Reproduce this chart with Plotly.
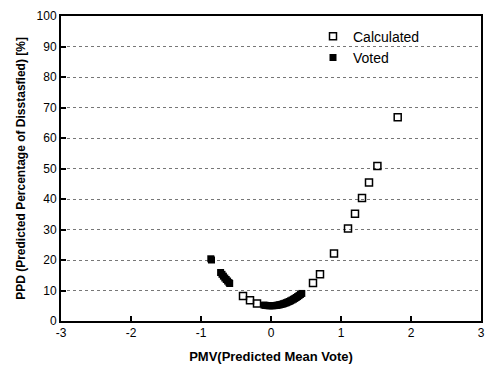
import plotly.graph_objects as go

calc_pmv = [-0.40, -0.30, -0.20, 0.60, 0.70, 0.90, 1.10, 1.20, 1.30, 1.40, 1.52, 1.81]
calc_ppd = [8.2, 6.8, 5.7, 12.5, 15.3, 22.1, 30.3, 35.2, 40.3, 45.4, 50.8, 66.8]

voted_pmv = [-0.86, -0.85, -0.72, -0.70, -0.68, -0.66, -0.64, -0.62, -0.60, -0.59,
             -0.10, -0.08, -0.06, -0.04, -0.02, 0.00, 0.02, 0.04, 0.06, 0.08, 0.10,
             0.12, 0.14, 0.16, 0.18, 0.20, 0.22, 0.24, 0.26, 0.28, 0.30, 0.32, 0.34,
             0.36, 0.38, 0.40, 0.42, 0.44]
voted_ppd = [20.4, 20.0, 15.9, 15.3, 14.7, 14.1, 13.6, 13.1, 12.6, 12.3,
             5.21, 5.13, 5.07, 5.03, 5.01, 5.00, 5.01, 5.03, 5.07, 5.13, 5.21,
             5.30, 5.41, 5.53, 5.67, 5.83, 6.00, 6.20, 6.40, 6.63, 6.87, 7.13, 7.40,
             7.70, 8.01, 8.33, 8.68, 9.04]

x_ticks = [-3, -2, -1, 0, 1, 2, 3]
x_tick_labels = ["-3", "-2", "-1", "0", "1", "2", "3"]
y_ticks = [0, 10, 20, 30, 40, 50, 60, 70, 80, 90, 100]
y_tick_labels = ["0", "10", "20", "30", "40", "50", "60", "70", "80", "90", "100"]

fig = go.Figure()
fig.add_trace(go.Scatter(
    x=calc_pmv, y=calc_ppd, mode="markers", name="Calculated",
    marker=dict(symbol="square-open", size=7, color="black", line=dict(width=1.5)),
))
fig.add_trace(go.Scatter(
    x=voted_pmv, y=voted_ppd, mode="markers", name="Voted",
    marker=dict(symbol="square", size=7, color="black"),
))

axis_common = dict(
    showline=True, linecolor="black", linewidth=2, mirror=True,
    ticks="inside", ticklen=5, tickwidth=1.5, tickcolor="black",
    zeroline=False,
    tickfont=dict(family="Liberation Sans, Arial", size=12, color="black"),
)

fig.update_xaxes(
    range=[-3, 3], tickvals=x_ticks, ticktext=x_tick_labels, showgrid=False,
    title=dict(text="<b>PMV(Predicted Mean Vote)</b>",
               font=dict(family="Liberation Sans, Arial", size=13, color="black"),
               standoff=12),
    **axis_common,
)
fig.update_yaxes(
    range=[0, 100], tickvals=y_ticks, ticktext=y_tick_labels, showgrid=True,
    gridcolor="#777777", griddash="dot", gridwidth=1,
    title=dict(text="<b>PPD (Predicted Percentage of Disstasfied) [%]</b>",
               font=dict(family="Liberation Sans, Arial", size=12, color="black"),
               standoff=8),
    **axis_common,
)

fig.update_layout(
    width=488, height=365,
    margin=dict(l=61, r=3, t=16, b=42),
    plot_bgcolor="white", paper_bgcolor="white",
    showlegend=True,
    legend=dict(x=0.60, y=0.985, xanchor="left", yanchor="top",
                bgcolor="rgba(0,0,0,0)",
                font=dict(family="Liberation Sans, Arial", size=14, color="black"),
                itemsizing="trace", tracegroupgap=0),
)

fig.write_html("out.html")
